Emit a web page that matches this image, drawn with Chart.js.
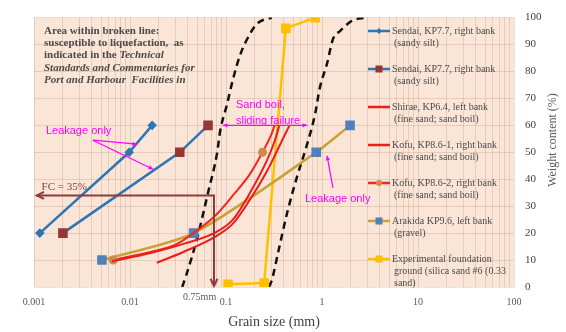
<!DOCTYPE html>
<html>
<head>
<meta charset="utf-8">
<script src="https://cdn.jsdelivr.net/npm/chart.js@4.4.0/dist/chart.umd.min.js"></script>
<style>
html, body { margin: 0; padding: 0; background: #fff; }
</style>
</head>
<body>
<canvas id="chart" width="566" height="332"></canvas>
<script>
// grain size (mm) vs passing weight (%)
const sendaiAX = [0.00115, 0.0098, 0.017];
const sendaiAY = [20, 50, 60];
const sendaiBX = [0.002, 0.033, 0.065];
const sendaiBY = [20, 50, 60];
const shiraeX = [0.0065, 0.016, 0.036, 0.08, 0.118, 0.178, 0.267, 0.32, 0.36];
const shiraeY = [9.5, 12.5, 16, 20.5, 25, 35, 47, 54, 60];
const kofu1X = [0.019, 0.036, 0.08, 0.118, 0.178, 0.267, 0.34, 0.43, 0.46];
const kofu1Y = [9, 13, 19, 23.5, 32.5, 43, 50.5, 58, 60];
const kofu2X = [0.0067, 0.018, 0.029, 0.046, 0.08, 0.118, 0.178, 0.24, 0.3, 0.32];
const kofu2Y = [10, 13.4, 15.5, 20, 27, 34, 42, 50, 57, 60];
const kofu2Marks = [1, 0, 0, 0, 0, 0, 0, 1, 0, 0];
const arakidaX = [0.0051, 0.046, 0.87, 1.96];
const arakidaY = [10, 20, 50, 60];
const expX = [0.105, 0.25, 0.42, 0.85];
const expY = [1, 1.5, 96, 100];
const leftBoundX = [0.035, 0.039, 0.05, 0.065, 0.081, 0.087, 0.102, 0.118, 0.14, 0.178, 0.215, 0.30];
const leftBoundY = [0, 5, 18, 35, 50, 58, 67.5, 77, 86, 94, 98, 100];
const rightBoundX = [0.28, 0.30, 0.35, 0.43, 0.55, 0.70, 0.845, 0.95, 1.13, 1.3, 1.54, 2.1, 2.9];
const rightBoundY = [0, 2.5, 13, 27, 41, 53, 64, 74, 83, 92, 95, 99, 100];

const xTickLabels = ['0.001', '0.01', '0.1', '1', '10', '100'];
const legendNames = [
    ['Sendai, KP7.7, right bank', '(sandy silt)'],
    ['Sendai, KP7.7, right bank', '(sandy silt)'],
    ['Shirae, KP6.4, left bank', '(fine sand; sand boil)'],
    ['Kofu, KP8.6-1, right bank', '(fine sand; sand boil)'],
    ['Kofu, KP8.6-2, right bank', '(fine sand; sand boil)'],
    ['Arakida KP9.6, left bank', '(gravel)'],
    ['Experimental foundation', 'ground (silica sand #6 (0.33', 'sand)']
];

const SERIF = '"Liberation Serif", "DejaVu Serif", serif';
const SANS = '"Liberation Sans", Arial, sans-serif';
const MAGENTA = '#ff00ff';
const FC_RED = '#8e3b3b';

function pts(xs, ys) {
    return xs.map((x, i) => ({ x: x, y: ys[i] }));
}

function arrowHead(ctx, x1, y1, x2, y2, size, filled) {
    const a = Math.atan2(y2 - y1, x2 - x1);
    ctx.beginPath();
    ctx.moveTo(x2 - size * Math.cos(a - 0.45), y2 - size * Math.sin(a - 0.45));
    ctx.lineTo(x2, y2);
    ctx.lineTo(x2 - size * Math.cos(a + 0.45), y2 - size * Math.sin(a + 0.45));
    if (filled) {
        ctx.closePath();
        ctx.fill();
    } else {
        ctx.stroke();
    }
}

function arrow(ctx, x1, y1, x2, y2, size, filled) {
    ctx.beginPath();
    ctx.moveTo(x1, y1);
    ctx.lineTo(x2, y2);
    ctx.stroke();
    arrowHead(ctx, x1, y1, x2, y2, size, filled);
}

const bgPlugin = {
    id: 'bg',
    beforeDraw(chart) {
        const { ctx, chartArea: a } = chart;
        ctx.save();
        ctx.fillStyle = '#fbe5d6';
        ctx.fillRect(a.left, a.top, a.right - a.left, a.bottom - a.top);
        ctx.restore();
    }
};

const notesPlugin = {
    id: 'notes',
    afterDraw(chart) {
        const { ctx, chartArea: a } = chart;
        const xs = chart.scales.x, ys = chart.scales.y;
        const px = v => xs.getPixelForValue(v);
        const py = v => ys.getPixelForValue(v);
        ctx.save();

        // note about liquefaction boundary
        ctx.fillStyle = '#4a4a4a';
        ctx.textBaseline = 'middle';
        ctx.textAlign = 'left';
        ctx.font = 'bold 11px ' + SERIF;
        ctx.fillText('Area within broken line:', 44, 31);
        ctx.fillText('susceptible to liquefaction,  as', 44, 43);
        ctx.fillText('indicated in the ', 44, 55);
        const w = ctx.measureText('indicated in the ').width;
        ctx.font = 'italic bold 11px ' + SERIF;
        ctx.fillText('Technical', 44 + w, 55);
        ctx.fillText('Standards and Commentaries for', 44, 68);
        ctx.fillText('Port and Harbour  Facilities in', 44, 80);

        // magenta remarks
        ctx.fillStyle = MAGENTA;
        ctx.strokeStyle = MAGENTA;
        ctx.lineWidth = 1.2;
        ctx.font = '11px ' + SANS;
        ctx.fillText('Leakage only', px(0.00133), py(58));
        arrow(ctx, px(0.0041), py(54.5), px(0.0118), py(53), 5, true);
        arrow(ctx, px(0.0041), py(54.5), px(0.0174), py(43.7), 5, true);

        ctx.fillText('Sand boil,', px(0.127), py(67.5));
        ctx.fillText('sliding failure', px(0.127), py(61.7));
        ctx.beginPath();
        ctx.moveTo(px(0.093), py(60));
        ctx.lineTo(px(0.70), py(60));
        ctx.stroke();
        arrowHead(ctx, px(0.70), py(60), px(0.093), py(60), 5, true);
        arrowHead(ctx, px(0.093), py(60), px(0.70), py(60), 5, true);

        ctx.fillText('Leakage only', px(0.665), py(32.5));
        arrow(ctx, px(1.30), py(36.8), px(1.13), py(48.7), 5, true);

        // fines content arrow
        ctx.strokeStyle = FC_RED;
        ctx.fillStyle = FC_RED;
        ctx.lineWidth = 2;
        ctx.font = '11px ' + SERIF;
        ctx.fillText('FC = 35%', px(0.0012), py(37));
        ctx.beginPath();
        ctx.moveTo(px(0.00107), py(34));
        ctx.lineTo(px(0.075), py(34));
        ctx.lineTo(px(0.075), a.bottom - 1);
        ctx.stroke();
        arrowHead(ctx, px(0.075), py(34), px(0.00107), py(34), 8, false);
        arrowHead(ctx, px(0.075), py(34), px(0.075), a.bottom - 1, 8, false);
        ctx.fillStyle = '#595959';
        ctx.font = '10px ' + SERIF;
        ctx.textAlign = 'right';
        ctx.fillText('0.75mm', px(0.079), a.bottom + 10);

        // legend
        const items = chart.data.datasets.slice(0, 7);
        ctx.textAlign = 'left';
        ctx.font = '10px ' + SERIF;
        items.forEach((ds, i) => {
            const yc = 31 + i * 38;
            ctx.strokeStyle = ds.borderColor;
            ctx.lineWidth = 2.5;
            ctx.beginPath();
            ctx.moveTo(368, yc);
            ctx.lineTo(390, yc);
            ctx.stroke();
            const mk = ds.legendMarker;
            if (mk) {
                ctx.fillStyle = mk.color;
                if (mk.style === 'rect') {
                    ctx.fillRect(379 - mk.size / 2, yc - mk.size / 2, mk.size, mk.size);
                } else if (mk.style === 'rectRot') {
                    ctx.beginPath();
                    ctx.moveTo(379, yc - mk.size / 2);
                    ctx.lineTo(379 + mk.size / 2, yc);
                    ctx.lineTo(379, yc + mk.size / 2);
                    ctx.lineTo(379 - mk.size / 2, yc);
                    ctx.fill();
                } else {
                    ctx.beginPath();
                    ctx.arc(379, yc, mk.size / 2, 0, Math.PI * 2);
                    ctx.fill();
                }
            }
            ctx.fillStyle = '#4a4a4a';
            legendNames[i].forEach((t, j) => {
                ctx.fillText(t, j === 0 ? 392 : 394, yc + j * 12);
            });
        });

        // right axis title, reading upwards
        ctx.fillStyle = '#595959';
        ctx.font = '12px ' + SERIF;
        ctx.textAlign = 'center';
        ctx.translate(553, 140);
        ctx.rotate(-Math.PI / 2);
        ctx.fillText('Weight content (%)', 0, 0);
        ctx.restore();
    }
};

const datasets = [
    {
        data: pts(sendaiAX, sendaiAY),
        borderColor: '#2e75b6', borderWidth: 2.5,
        pointStyle: 'rectRot', pointRadius: 3,
        pointBackgroundColor: '#2e75b6', pointBorderColor: '#2e75b6',
        legendMarker: { style: 'rectRot', size: 6, color: '#2e75b6' }
    },
    {
        data: pts(sendaiBX, sendaiBY),
        borderColor: '#2e75b6', borderWidth: 2.5,
        pointStyle: 'rect', pointRadius: 5,
        pointBackgroundColor: '#953735', pointBorderColor: '#953735',
        legendMarker: { style: 'rect', size: 7, color: '#953735' }
    },
    {
        data: pts(shiraeX, shiraeY),
        borderColor: '#ee1c1c', borderWidth: 2, pointRadius: 0,
        cubicInterpolationMode: 'monotone'
    },
    {
        data: pts(kofu1X, kofu1Y),
        borderColor: '#ee1c1c', borderWidth: 2, pointRadius: 0,
        cubicInterpolationMode: 'monotone'
    },
    {
        data: pts(kofu2X, kofu2Y),
        borderColor: '#f0281e', borderWidth: 2,
        pointRadius: kofu2Marks.map(m => m ? 3.5 : 0),
        pointBackgroundColor: '#cf8a45', pointBorderColor: '#cf8a45',
        cubicInterpolationMode: 'monotone',
        legendMarker: { style: 'circle', size: 6, color: '#cf8a45' }
    },
    {
        data: pts(arakidaX, arakidaY),
        borderColor: '#c9a236', borderWidth: 2.5, tension: 0.25,
        pointStyle: 'rect', pointRadius: 5,
        pointBackgroundColor: '#4f81bd', pointBorderColor: '#4f81bd',
        legendMarker: { style: 'rect', size: 7, color: '#4f81bd' }
    },
    {
        data: pts(expX, expY),
        borderColor: '#ffc000', borderWidth: 2.5,
        pointStyle: 'rect', pointRadius: 5,
        pointBackgroundColor: '#ffc000', pointBorderColor: '#ffc000',
        legendMarker: { style: 'rect', size: 7, color: '#ffc000' }
    },
    {
        data: pts(leftBoundX, leftBoundY),
        borderColor: '#111', borderWidth: 2.5, borderDash: [7, 5],
        pointRadius: 0, cubicInterpolationMode: 'monotone'
    },
    {
        data: pts(rightBoundX, rightBoundY),
        borderColor: '#111', borderWidth: 2.5, borderDash: [7, 5],
        pointRadius: 0, cubicInterpolationMode: 'monotone'
    }
];

const gridColor = 'rgba(150, 105, 75, 0.2)';

new Chart(document.getElementById('chart').getContext('2d'), {
    type: 'line',
    data: { datasets: datasets },
    options: {
        responsive: false,
        animation: false,
        devicePixelRatio: 1,
        layout: { padding: { left: 34, top: 10, right: 0, bottom: 0 } },
        plugins: {
            legend: { display: false },
            tooltip: { enabled: false }
        },
        scales: {
            x: {
                type: 'logarithmic',
                position: 'bottom',
                min: 0.001,
                max: 100,
                afterBuildTicks: scale => {
                    const t = [];
                    for (let e = -3; e <= 1; e++) {
                        for (let m = 1; m <= 9; m++) t.push({ value: m * Math.pow(10, e) });
                    }
                    t.push({ value: 100 });
                    scale.ticks = t;
                },
                afterFit: scale => { scale.height = 45; },
                ticks: {
                    autoSkip: false,
                    maxRotation: 0,
                    padding: 9,
                    color: '#595959',
                    font: { family: SERIF, size: 10 },
                    callback: v => {
                        const e = Math.log10(v);
                        if (Math.abs(e - Math.round(e)) > 1e-6) return '';
                        return xTickLabels[Math.round(e) + 3];
                    }
                },
                grid: { color: gridColor, drawTicks: false },
                border: { display: false },
                title: {
                    display: true,
                    text: 'Grain size (mm)',
                    color: '#404040',
                    font: { family: SERIF, size: 14 },
                    padding: { top: 0, bottom: 1 }
                }
            },
            y: {
                position: 'right',
                min: 0,
                max: 100,
                afterFit: scale => { scale.width = 52; },
                ticks: {
                    stepSize: 10,
                    padding: 11,
                    color: '#404040',
                    font: { family: SERIF, size: 11 }
                },
                grid: { color: gridColor, drawTicks: false },
                border: { display: false }
            }
        }
    },
    plugins: [bgPlugin, notesPlugin]
});
</script>
</body>
</html>
